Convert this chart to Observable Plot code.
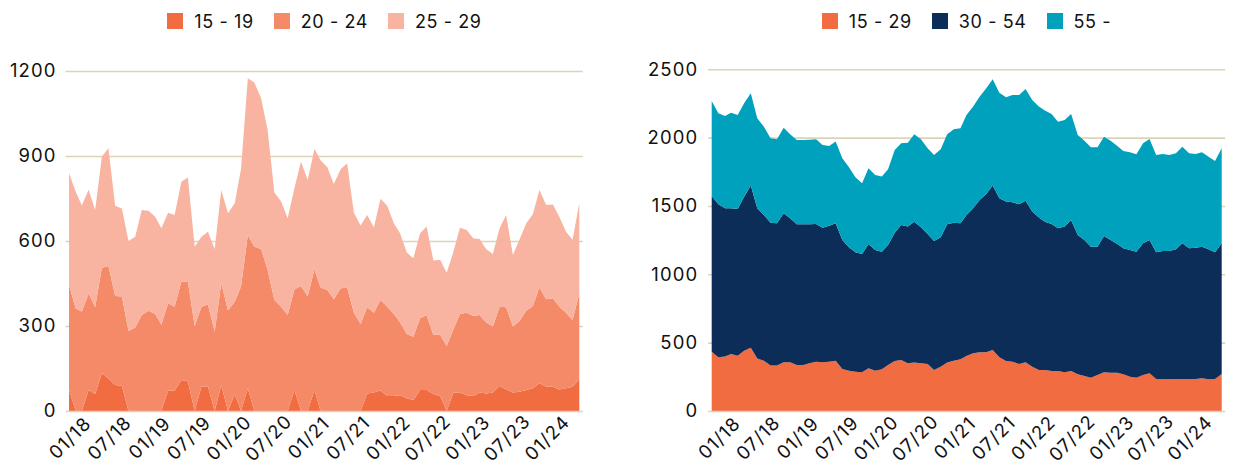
<!DOCTYPE html>
<html><head><meta charset="utf-8">
<script src="https://cdn.jsdelivr.net/npm/d3@7"></script>
<script src="https://cdn.jsdelivr.net/npm/@observablehq/plot@0.6"></script>
<style>
html,body{margin:0;padding:0;background:#fff;}
body{font-family:Inter,"Noto Sans",sans-serif;}
#wrap{position:relative;width:1233px;height:468px;overflow:hidden;}
.panel{position:absolute;top:0;height:468px;}
.legend{position:absolute;top:0;height:42px;display:flex;justify-content:center;align-items:center;font-size:18px;color:#111;letter-spacing:0.6px;}
.item{display:flex;align-items:center;margin:0 10px;white-space:pre;}
.sw{width:16px;height:16px;margin-right:11px;}
.chart{position:absolute;top:42px;left:0;}
</style></head>
<body>
<div id="wrap">
  <div class="panel" id="left" style="left:0;width:616px;"></div>
  <div class="panel" id="right" style="left:616px;width:617px;"></div>
</div>
<script>
// ---------- categories ----------
const leftStart = "01/18", leftEnd = "06/24";
const rightStart = "12/17", rightEnd = "06/24";
const tickLabels = ["01/18","07/18","01/19","07/19","01/20","07/20","01/21","07/21","01/22","07/22","01/23","07/23","01/24"];

// ---------- left chart series ----------
const groupsLeft = ["15 - 19","20 - 24","25 - 29"];
const colorsLeft = ["#f26c41","#f48a68","#f8b4a0"];
const yTicksLeft = [0,300,600,900,1200];
const v15_19 = [74,0,0,74,60,133,115,92,89,0,0,0,0,0,0,72,72,109,104,0,86,86,0,92,0,59,0,80,0,0,0,0,0,0,74,0,0,74,0,0,0,0,0,0,0,62,65,72,53,53,56,45,39,74,74,60,53,0,65,65,56,53,65,62,65,88,76,65,68,74,80,98,86,86,76,80,86,112];
const v20_24 = [371,362,351,341,306,373,397,314,315,282,295,339,354,342,304,308,296,347,352,300,282,290,280,359,356,327,439,541,580,572,498,392,368,339,355,441,404,426,436,427,394,433,435,347,307,304,282,320,315,289,256,227,223,253,264,208,216,229,223,277,291,282,274,250,233,280,290,233,250,280,291,338,308,312,292,267,235,303];
const v25_29 = [394,412,374,366,343,392,415,318,311,318,320,370,353,344,341,320,324,353,368,280,247,257,291,329,342,347,417,553,579,532,494,379,371,341,357,440,411,425,449,433,407,420,439,353,348,326,301,357,356,320,315,287,277,300,313,263,265,259,274,305,292,274,268,259,256,277,326,253,288,308,324,344,333,331,318,286,283,318];

// ---------- right chart series ----------
const groupsRight = ["15 - 29","30 - 54","55 -"];
const colorsRight = ["#f26c41","#0c2d58","#00a1bc"];
const yTicksRight = [0,500,1000,1500,2000,2500];
const v15_29 = [434,393,398,417,405,441,463,385,368,332,332,356,356,337,337,349,361,356,361,368,307,295,288,283,312,295,305,337,366,373,349,354,349,344,300,324,354,368,378,402,422,429,429,446,393,366,361,344,356,324,300,300,293,293,283,293,268,256,244,263,283,280,280,268,251,244,263,276,234,232,232,234,234,234,234,239,232,234,271];
const v30_54 = [1139,1119,1085,1066,1073,1127,1186,1098,1066,1046,1041,1090,1054,1029,1029,1018,1007,985,995,1005,944,903,873,866,910,883,861,878,939,988,1000,1031,995,951,944,947,1012,1010,995,1032,1061,1115,1159,1203,1163,1166,1166,1168,1183,1135,1115,1085,1075,1044,1066,1105,1020,995,958,939,997,971,942,922,927,922,964,975,927,939,939,949,993,956,961,963,951,927,956];
const v55 = [695,666,676,700,688,683,675,658,646,617,615,627,614,617,617,618,620,605,583,598,598,585,549,517,554,549,549,553,605,598,614,639,644,627,629,644,658,683,695,732,744,756,773,778,773,763,785,800,817,817,812,813,805,780,780,775,732,727,727,727,727,727,717,712,715,712,732,739,712,709,702,702,707,695,685,691,678,668,695];

// ---------- helpers ----------
function parseMY(s){const [m,y]=s.split("/").map(Number);return new Date(Date.UTC(2000+y,m-1,1));}
function monthRange(a,b){const out=[];let d=parseMY(a);const e=parseMY(b);while(d<=e){out.push(d);d=new Date(Date.UTC(d.getUTCFullYear(),d.getUTCMonth()+1,1));}return out;}
function buildRows(months, groups, series){const rows=[];groups.forEach((g,k)=>{series[k].forEach((v,i)=>rows.push({date:months[i],group:g,value:v}));});return rows;}

const gridColor = "#ddd3b6";

function makeChart(opts){
  const {months, groups, colors, series, yTicks, width, marginLeft, marginRight, marginTop, labelDx} = opts;
  const rows = buildRows(months, groups, series);
  const svg = Plot.plot({
    width, height: 426,
    marginLeft, marginRight, marginTop, marginBottom: 57,
    style: {fontFamily: "Inter, 'Noto Sans', sans-serif", fontSize: "18px", background: "transparent", overflow: "visible"},
    x: {type: "utc", domain: [months[0], months[months.length-1]], axis: null},
    y: {domain: [0, yTicks[yTicks.length-1]], axis: null},
    color: {domain: groups, range: colors},
    marks: [
      Plot.ruleY(yTicks.filter(d=>d>0), {stroke: gridColor, strokeWidth: 1.6, insetLeft: -3.5, insetRight: -3.5}),
      Plot.areaY(rows, {x: "date", y: "value", fill: "group", order: groups, curve: "linear"}),
      Plot.ruleY([0], {stroke: gridColor, strokeWidth: 1.6, insetLeft: -3.5, insetRight: -3.5}),
      Plot.text(yTicks, {y: d=>d, text: d=>String(d), frameAnchor: "left", textAnchor: "end", dx: labelDx, fontSize: 18.5, fill: "#111"}),
      Plot.text(tickLabels, {x: d=>parseMY(d), text: d=>d, frameAnchor: "bottom", textAnchor: "middle", rotate: -45, dx: 5, dy: 31, fontSize: 18.5, fill: "#111"})
    ]
  });
  svg.querySelectorAll("text").forEach(t => t.style.letterSpacing = "1.1px");
  return svg;
}

function makeLegend(groups, colors, left, width){
  const div = document.createElement("div");
  div.className = "legend";
  div.style.left = left + "px";
  div.style.width = width + "px";
  groups.forEach((g,i)=>{
    const it = document.createElement("div"); it.className = "item";
    const sw = document.createElement("div"); sw.className = "sw"; sw.style.background = colors[i];
    const tx = document.createElement("span"); tx.textContent = g;
    it.appendChild(sw); it.appendChild(tx); div.appendChild(it);
  });
  return div;
}

const leftMonths = monthRange(leftStart, leftEnd);
const rightMonths = monthRange(rightStart, rightEnd);

const leftPanel = document.getElementById("left");
leftPanel.appendChild(makeLegend(groupsLeft, colorsLeft, 66, 517));
const c1 = makeChart({months: leftMonths, groups: groupsLeft, colors: colorsLeft, series: [v15_19, v20_24, v25_29], yTicks: yTicksLeft, width: 616, marginLeft: 69, marginRight: 36.7, marginTop: 29, labelDx: -13});
c1.classList.add("chart");
leftPanel.appendChild(c1);

const rightPanel = document.getElementById("right");
rightPanel.appendChild(makeLegend(groupsRight, colorsRight, 92, 517));
const c2 = makeChart({months: rightMonths, groups: groupsRight, colors: colorsRight, series: [v15_29, v30_54, v55], yTicks: yTicksRight, width: 617, marginLeft: 95.7, marginRight: 11.3, marginTop: 27.3, labelDx: -14});
c2.classList.add("chart");
rightPanel.appendChild(c2);
</script>
</body></html>
